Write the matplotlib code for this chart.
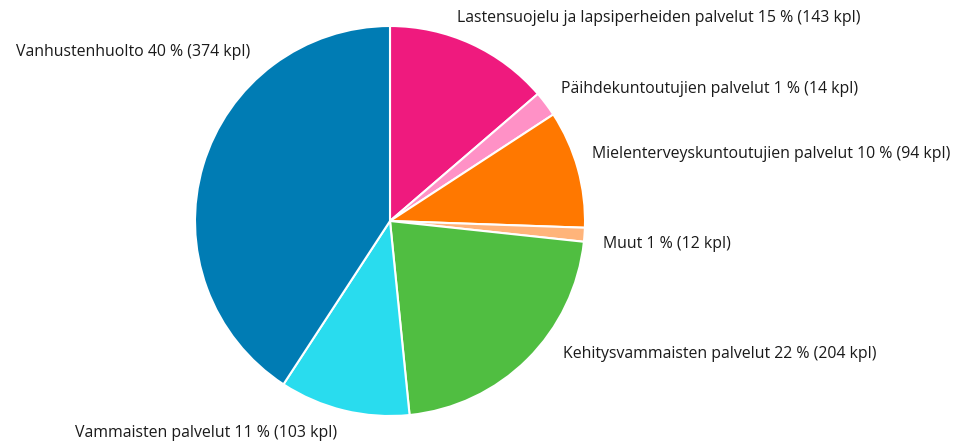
import matplotlib
matplotlib.use("Agg")
from matplotlib import pyplot as plt

labels = ["Lastensuojelu ja lapsiperheiden palvelut", "Päihdekuntoutujien palvelut",
          "Mielenterveyskuntoutujien palvelut", "Muut", "Kehitysvammaisten palvelut",
          "Vammaisten palvelut", "Vanhustenhuolto"]
counts = [143, 14, 94, 12, 204, 103, 374]
percents = [15, 1, 10, 1, 22, 11, 40]
# slice sizes as drawn in the picture (% of circle), which differ a bit from the labels
slice_share = [13.7, 2.1, 9.75, 1.15, 21.7, 10.8, 40.8]
colors = ["#ef1a7e", "#ff91c6", "#ff7800", "#ffb47a", "#50be41", "#29dcee", "#007cb4"]

# label anchor points in pixels (x, y from top)
label_pos = [(457, 18), (561, 89), (592, 154), (603, 244),
             (563, 354), (75, 433), (16, 52)]

W, H = 965, 446
fig = plt.figure(figsize=(W / 100, H / 100), dpi=100)
plt.rcParams['font.family'] = ['Open Sans', 'DejaVu Sans']

# pie centre (390, 221), radius 195 px
cx, cy, r = 390, 221, 195
ax = fig.add_axes([(cx - r) / W, (H - cy - r) / H, 2 * r / W, 2 * r / H])
ax.pie(slice_share, colors=colors, startangle=90, counterclock=False, radius=1,
       wedgeprops=dict(edgecolor="white", linewidth=1.5))
ax.set_xlim(-1, 1)
ax.set_ylim(-1, 1)
ax.set_aspect("equal")
ax.axis("off")

for name, p, n, (x, y) in zip(labels, percents, counts, label_pos):
    fig.text(x / W, 1 - y / H, "{} {} % ({} kpl)".format(name, p, n),
             ha="left", va="center", fontsize=11.4, color="#1a1a1a")

fig.savefig("out.png", dpi=100)
